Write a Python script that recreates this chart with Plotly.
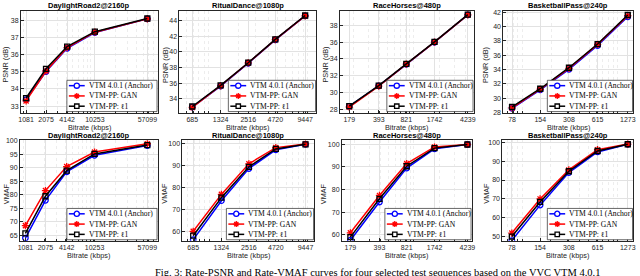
import plotly.graph_objects as go

# ---------------- data ----------------
sequences = ["DaylightRoad2@2160p", "RitualDance@1080p", "RaceHorses@480p", "BasketballPass@240p"]
bitrates = [
    [1081, 2075, 4142, 10253, 57099],
    [685, 1324, 2516, 4720, 9447],
    [179, 393, 821, 1742, 4239],
    [78, 154, 308, 615, 1273],
]
series_names = ["VTM 4.0.1 (Anchor)", "VTM-PP: GAN", "VTM-PP: ℓ1"]

psnr_anchor = [
    [33.38, 35.02, 36.38, 37.30, 38.10],
    [32.90, 35.60, 38.55, 41.55, 44.65],
    [28.38, 30.80, 33.35, 35.98, 39.22],
    [28.60, 31.15, 34.02, 37.35, 41.35],
]
psnr_gan = [
    [33.30, 35.05, 36.42, 37.32, 38.10],
    [32.85, 35.65, 38.60, 41.60, 44.65],
    [28.30, 30.78, 33.38, 36.00, 39.22],
    [28.65, 31.25, 34.15, 37.50, 41.50],
]
psnr_l1 = [
    [33.47, 35.18, 36.48, 37.35, 38.12],
    [32.98, 35.70, 38.62, 41.62, 44.70],
    [28.42, 30.84, 33.42, 36.02, 39.25],
    [28.80, 31.32, 34.25, 37.55, 41.60],
]
vmaf_anchor = [
    [63.9, 77.9, 88.5, 94.6, 98.2],
    [56.2, 74.0, 88.7, 97.3, 99.8],
    [57.6, 74.5, 89.5, 98.0, 99.9],
    [47.7, 66.6, 84.0, 95.0, 99.1],
]
vmaf_gan = [
    [68.5, 81.5, 90.4, 95.8, 98.9],
    [60.0, 76.9, 90.9, 98.3, 99.9],
    [60.9, 77.4, 91.5, 98.8, 99.9],
    [51.7, 69.9, 85.4, 96.2, 99.2],
]
vmaf_l1 = [
    [65.6, 79.4, 88.9, 95.1, 98.4],
    [58.0, 75.4, 89.5, 97.7, 99.8],
    [59.0, 75.9, 90.3, 98.3, 99.9],
    [49.8, 68.3, 84.7, 95.5, 99.1],
]

y_titles = ["PSNR (dB)", "VMAF"]
x_title = "Bitrate (kbps)"
caption = "Fig. 3: Rate-PSNR and Rate-VMAF curves for four selected test sequences based on the VVC VTM 4.0.1"

# ---------------- layout geometry (pixels) ----------------
W, H = 640, 276
panel_lr = [
    [(19, 157), (179, 317), (341, 476), (506, 637)],
    [(18, 157), (182, 315), (343, 474), (505, 637)],
]
panel_tb = [(8, 112), (140, 243)]
x_ranges = [
    [(2.959, 4.901), (2.705, 4.085), (2.143, 3.694), (1.800, 3.160)],
    [(2.955, 4.901), (2.725, 4.062), (2.152, 3.676), (1.792, 3.160)],
]
y_ranges = [
    [(32.62, 38.57), (32.2, 45.3), (27.65, 39.7), (28.0, 42.18)],
    [(62.9, 100.3), (55.7, 101.8), (57.4, 101.9), (47.6, 101.4)],
]
y_dticks = [[1, 2, 2, 2], [5, 10, 10, 10]]
y_title_x = [[4, 165, 327, 488], [4, 164, 324, 489]]
legend_w = [[91, 88, 87, 86], [91, 88, 87, 86]]

colors = ["#0000ff", "#ff0000", "#000000"]
symbols = ["circle-open", "asterisk-open", "square-open"]
msizes = [5.5, 6, 5]

AX = "#262626"
SANS = "Liberation Sans, Arial, sans-serif"
SERIF = "Liberation Serif, Times New Roman, serif"


def fx(x):
    return x / W


def fy(y):
    return 1 - y / H


fig = go.Figure()
annotations = []
shapes = []
minor_vals = [m * 10 ** e for e in range(1, 6) for m in range(1, 10)]

for r in range(2):
    data_sets = [psnr_anchor, psnr_gan, psnr_l1] if r == 0 else [vmaf_anchor, vmaf_gan, vmaf_l1]
    top, bot = panel_tb[r]
    for c in range(4):
        idx = r * 4 + c + 1
        xa = "x" if idx == 1 else f"x{idx}"
        ya = "y" if idx == 1 else f"y{idx}"
        left, right = panel_lr[r][c]
        for s in range(3):
            fig.add_trace(go.Scatter(
                x=bitrates[c], y=data_sets[s][c], xaxis=xa, yaxis=ya,
                mode="lines+markers", name=series_names[s], showlegend=False,
                line=dict(color=colors[s], width=1.5),
                marker=dict(symbol=symbols[s], size=msizes[s], color=colors[s],
                            line=dict(color=colors[s], width=1.3)),
            ))
        xkey = "xaxis" if idx == 1 else f"xaxis{idx}"
        ykey = "yaxis" if idx == 1 else f"yaxis{idx}"
        fig.layout[xkey] = dict(
            type="log", domain=[fx(left), fx(right)], anchor=ya,
            range=list(x_ranges[r][c]),
            tickmode="array", tickvals=bitrates[c], ticktext=[str(v) for v in bitrates[c]],
            showline=True, mirror=True, linecolor=AX, linewidth=0.7,
            ticks="inside", ticklen=3, tickwidth=0.6, tickcolor=AX,
            tickfont=dict(family=SANS, size=7, color=AX),
            showgrid=True, gridcolor="#e2e2e2", gridwidth=0.6, zeroline=False,
            minor=dict(tickvals=minor_vals, showgrid=True, gridcolor="#ededed",
                       gridwidth=0.5, griddash="dot", ticks="inside", ticklen=1.5,
                       tickcolor=AX),
            fixedrange=True,
        )
        fig.layout[ykey] = dict(
            domain=[fy(bot), fy(top)], anchor=xa,
            range=list(y_ranges[r][c]), dtick=y_dticks[r][c], tick0=0,
            showline=True, mirror=True, linecolor=AX, linewidth=0.7,
            ticks="inside", ticklen=3, tickwidth=0.6, tickcolor=AX,
            tickfont=dict(family=SANS, size=7, color=AX),
            showgrid=True, gridcolor="#e2e2e2", gridwidth=0.6, zeroline=False,
            fixedrange=True,
        )
        cx = (left + right) / 2
        # title
        annotations.append(dict(
            text=f"<b>{sequences[c]}</b>", x=fx(cx), y=fy(top - 5), xref="paper", yref="paper",
            xanchor="center", yanchor="middle", showarrow=False,
            font=dict(family=SANS, size=7.5, color="#000000"),
        ))
        # x axis title
        annotations.append(dict(
            text=x_title, x=fx(cx), y=fy(bot + 15), xref="paper", yref="paper",
            xanchor="center", yanchor="middle", showarrow=False,
            font=dict(family=SANS, size=7.3, color=AX),
        ))
        # y axis title
        annotations.append(dict(
            text=y_titles[r], x=fx(y_title_x[r][c]), y=fy((top + bot) / 2 + 3),
            xref="paper", yref="paper", xanchor="center", yanchor="middle",
            textangle=-90, showarrow=False,
            font=dict(family=SANS, size=7.3, color=AX),
        ))
        # legend box
        lw = legend_w[r][c]
        bx1 = right - 0.5
        bx0 = bx1 - lw
        by1 = bot - 1
        by0 = by1 - 32
        shapes.append(dict(type="rect", xref="paper", yref="paper",
                           x0=fx(bx0), x1=fx(bx1), y0=fy(by1), y1=fy(by0),
                           fillcolor="white", line=dict(color=AX, width=0.7), layer="above"))
        for s in range(3):
            ry = by0 + 5.5 + 10.5 * s
            lx0, lx1 = bx0 + 2, bx0 + 18
            mx = (lx0 + lx1) / 2
            shapes.append(dict(type="line", xref="paper", yref="paper",
                               x0=fx(lx0), x1=fx(lx1), y0=fy(ry), y1=fy(ry),
                               line=dict(color=colors[s], width=1.5), layer="above"))
            if s == 0:
                shapes.append(dict(type="circle", xref="paper", yref="paper",
                                   xsizemode="pixel", ysizemode="pixel",
                                   xanchor=fx(mx), yanchor=fy(ry),
                                   x0=-2.6, x1=2.6, y0=-2.6, y1=2.6,
                                   fillcolor="white", line=dict(color=colors[s], width=1.3),
                                   layer="above"))
            elif s == 1:
                shapes.append(dict(type="path", xref="paper", yref="paper",
                                   xsizemode="pixel", ysizemode="pixel",
                                   xanchor=fx(mx), yanchor=fy(ry),
                                   path="M-3,0L3,0M0,-3L0,3M-2.1,-2.1L2.1,2.1M-2.1,2.1L2.1,-2.1",
                                   line=dict(color=colors[s], width=1.3), layer="above"))
            else:
                shapes.append(dict(type="rect", xref="paper", yref="paper",
                                   xsizemode="pixel", ysizemode="pixel",
                                   xanchor=fx(mx), yanchor=fy(ry),
                                   x0=-2.2, x1=2.2, y0=-2.2, y1=2.2,
                                   fillcolor="white", line=dict(color=colors[s], width=1.3),
                                   layer="above"))
            annotations.append(dict(
                text=series_names[s], x=fx(bx0 + 20), y=fy(ry), xref="paper", yref="paper",
                xanchor="left", yanchor="middle", showarrow=False,
                font=dict(family=SERIF, size=7.6, color="#000000"),
            ))

annotations.append(dict(
    text=caption, x=fx(152), y=fy(275), xref="paper", yref="paper",
    xanchor="left", yanchor="middle", showarrow=False,
    font=dict(family=SERIF, size=10.5, color="#000000"),
))

fig.update_layout(
    width=W, height=H, margin=dict(l=0, r=0, t=0, b=0),
    paper_bgcolor="white", plot_bgcolor="white",
    showlegend=False, annotations=annotations, shapes=shapes,
)

fig.write_html(
    "out.html",
    config={"displayModeBar": False},
    post_script="document.body.style.margin='0';document.body.style.overflow='hidden';",
)
